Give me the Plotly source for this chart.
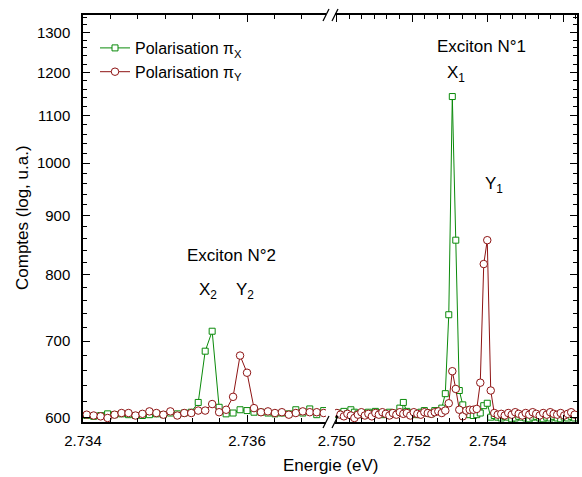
import plotly.graph_objects as go
import math

# ---------------- data ----------------
energy_left = [2.734045, 2.734130, 2.734215, 2.734300, 2.734385, 2.734470, 2.734555, 2.734640,
               2.734725, 2.734810, 2.734895, 2.734980, 2.735065, 2.735150, 2.735235, 2.735320,
               2.735405, 2.735490, 2.735575, 2.735660, 2.735745, 2.735830, 2.735915, 2.736000,
               2.736085, 2.736170, 2.736255, 2.736340, 2.736425, 2.736510, 2.736595, 2.736680,
               2.736765, 2.736850, 2.736935]
pix_left = [603, 602, 603, 605, 604, 605, 604, 603, 603, 604, 605, 604, 606, 605, 606,
            607, 619, 686, 714, 613, 605, 606, 610, 609, 607, 607, 606, 605, 606, 605,
            610, 606, 611, 604, 609]
piy_left = [604, 603, 602, 600, 604, 606, 606, 603, 605, 608, 606, 604, 608, 603, 606,
            606, 609, 609, 617, 607, 610, 626, 680, 657, 612, 607, 608, 606, 607, 604,
            606, 608, 607, 607, 606]

energy_right = [2.750010, 2.750103, 2.750195, 2.750288, 2.750380, 2.750473, 2.750565, 2.750658,
                2.750750, 2.750843, 2.750935, 2.751028, 2.751120, 2.751213, 2.751305, 2.751398,
                2.751490, 2.751583, 2.751675, 2.751768, 2.751860, 2.751953, 2.752045, 2.752138,
                2.752230, 2.752323, 2.752415, 2.752508, 2.752600, 2.752693, 2.752785, 2.752878,
                2.752970, 2.753063, 2.753155, 2.753248, 2.753340, 2.753433, 2.753525, 2.753618,
                2.753710, 2.753803, 2.753895, 2.753988, 2.754080, 2.754173, 2.754265, 2.754358,
                2.754450, 2.754543, 2.754635, 2.754728, 2.754820, 2.754913, 2.755005, 2.755098,
                2.755190, 2.755283, 2.755375, 2.755468, 2.755560, 2.755653, 2.755745, 2.755838,
                2.755930, 2.756023, 2.756115, 2.756208, 2.756300]
pix_right = [604, 606, 608, 605, 610, 607, 605, 604, 606, 607, 605, 608, 606, 604, 605, 607,
             606, 605, 612, 619, 608, 606, 605, 604, 607, 609, 606, 605, 609, 608, 612,
             630, 738, 1143, 857, 634, 616, 605, 604, 603, 604, 606, 615, 618, 601, 603,
             601, 600, 602, 601, 599, 600, 602, 601, 600, 599, 601, 602, 600, 599, 601,
             600, 602, 600, 599, 601, 600, 602, 600]
piy_right = [606, 604, 602, 605, 603, 600, 604, 607, 603, 605, 602, 606, 604, 607, 605, 603,
             606, 604, 607, 605, 606, 603, 607, 605, 604, 607, 606, 605, 607, 608,
             606, 609, 618, 659, 636, 610, 602, 609, 610, 610, 611, 644, 817, 857, 634, 606,
             604, 605, 603, 606, 604, 607, 605, 603, 606, 604, 607, 605, 603, 606, 604,
             607, 605, 604, 606, 603, 605, 607, 604]

y_major = [600, 700, 800, 900, 1000, 1100, 1200, 1300]
y_minor = [620, 640, 660, 680, 720, 740, 760, 780, 820, 840, 860, 880, 920, 940, 960, 980,
           1020, 1040, 1060, 1080, 1120, 1140, 1160, 1180, 1220, 1240, 1260, 1280, 1320, 1340]

series_names = ["Polarisation π<sub>X</sub>", "Polarisation π<sub>Y</sub>"]

# ---------------- layout geometry ----------------
W, H = 582, 477
L, R, T, B = 83, 5, 15, 55
PW, PH = W - L - R, H - T - B
BREAK_L, BREAK_R = 326, 335


def px_x(px):
    return (px - L) / PW


def px_y(py):
    return (H - B - py) / PH


GREEN = "#0a8a0a"
RED = "#8e1414"
FONT = "Liberation Sans, Arial, sans-serif"

fig = go.Figure()

for xs, ys, xa, show in [(energy_left, pix_left, "x", True), (energy_right, pix_right, "x2", False)]:
    fig.add_trace(go.Scatter(
        x=xs, y=ys, xaxis=xa, yaxis="y", mode="lines+markers",
        name=series_names[0], legendgroup="px", showlegend=show,
        line=dict(color=GREEN, width=1),
        marker=dict(symbol="square", size=6, color="white", line=dict(color=GREEN, width=1)),
    ))
for xs, ys, xa, show in [(energy_left, piy_left, "x", True), (energy_right, piy_right, "x2", False)]:
    fig.add_trace(go.Scatter(
        x=xs, y=ys, xaxis=xa, yaxis="y", mode="lines+markers",
        name=series_names[1], legendgroup="py", showlegend=show,
        line=dict(color=RED, width=1),
        marker=dict(symbol="circle", size=7.5, color="white", line=dict(color=RED, width=1)),
    ))

yr = [math.log10(595.2), math.log10(1346)]

axis_common = dict(
    showline=True, linecolor="black", linewidth=1.5, mirror="ticks",
    ticks="inside", ticklen=7, tickwidth=1, tickcolor="black",
    showgrid=False, zeroline=False,
    tickfont=dict(family=FONT, size=15, color="black"),
)

fig.update_layout(
    width=W, height=H,
    margin=dict(l=L, r=R, t=T, b=B),
    paper_bgcolor="white", plot_bgcolor="white",
    font=dict(family=FONT, size=15, color="black"),
    xaxis=dict(domain=[0, px_x(BREAK_L)], range=[2.734, 2.736963], anchor="y",
               tickmode="linear", tick0=2.734, dtick=0.002, tickformat=".3f",
               ticklabelstandoff=4,
               minor=dict(tick0=2.734, dtick=0.002 / 6, ticks="inside", ticklen=4,
                          tickcolor="black", tickwidth=1, showgrid=False),
               **axis_common),
    xaxis2=dict(domain=[px_x(BREAK_R), 1], range=[2.749960, 2.756362], anchor="y",
                tickmode="linear", tick0=2.750, dtick=0.002, tickformat=".3f",
                ticklabelstandoff=4,
                minor=dict(tick0=2.750, dtick=0.002 / 6, ticks="inside", ticklen=4,
                           tickcolor="black", tickwidth=1, showgrid=False),
                **axis_common),
    yaxis=dict(type="log", range=yr, anchor="x", side="left",
               tickmode="array", tickvals=y_major, ticktext=[str(v) for v in y_major],
               ticklabelstandoff=8,
               minor=dict(tickmode="array", tickvals=y_minor, ticks="inside", ticklen=4,
                          tickcolor="black", tickwidth=1, showgrid=False),
               showline=True, linecolor="black", linewidth=1.5, mirror=False,
               ticks="inside", ticklen=7, tickwidth=1, tickcolor="black",
               showgrid=False, zeroline=False,
               tickfont=dict(family=FONT, size=15, color="black")),
    yaxis2=dict(type="log", range=yr, anchor="x2", side="right", overlaying="y",
                tickmode="array", tickvals=y_major, showticklabels=False,
                minor=dict(tickmode="array", tickvals=y_minor, ticks="inside", ticklen=4,
                           tickcolor="black", tickwidth=1, showgrid=False),
                showline=True, linecolor="black", linewidth=1.5, mirror=False,
                ticks="inside", ticklen=7, tickwidth=1, tickcolor="black",
                showgrid=False, zeroline=False),
    showlegend=True,
    legend=dict(x=px_x(95), y=px_y(31), xanchor="left", yanchor="top",
                bgcolor="rgba(0,0,0,0)", borderwidth=0,
                font=dict(family=FONT, size=16, color="black"),
                tracegroupgap=0),
)

# invisible point that activates the right-hand y axis (mirror with ticks)
fig.add_trace(go.Scatter(x=[energy_right[0]], y=[pix_right[0]], xaxis="x2", yaxis="y2",
                         mode="markers", marker=dict(opacity=0), showlegend=False,
                         hoverinfo="skip"))

annotations = [
    dict(text="Energie (eV)", x=px_x(330), y=px_y(465)),
    dict(text="Comptes (log, u.a.)", x=px_x(23), y=px_y(218), textangle=-90),
    dict(text="Exciton N°1", x=px_x(481), y=px_y(47)),
    dict(text="X<sub>1</sub>", x=px_x(456), y=px_y(74)),
    dict(text="Y<sub>1</sub>", x=px_x(494), y=px_y(185)),
    dict(text="Exciton N°2", x=px_x(231), y=px_y(255)),
    dict(text="X<sub>2</sub>", x=px_x(208), y=px_y(291)),
    dict(text="Y<sub>2</sub>", x=px_x(245), y=px_y(291)),
]
for a in annotations:
    fig.add_annotation(xref="paper", yref="paper", showarrow=False,
                       xanchor="center", yanchor="middle",
                       font=dict(family=FONT, size=17, color="black"), **a)

# axis break marks "//" on bottom and top axes
for py in (T, H - B):
    for bx in (BREAK_L, BREAK_R):
        fig.add_shape(type="line", xref="paper", yref="paper",
                      x0=px_x(bx - 3), y0=px_y(py + 6), x1=px_x(bx + 3), y1=px_y(py - 6),
                      line=dict(color="black", width=1.3))

fig.write_html("out.html")
